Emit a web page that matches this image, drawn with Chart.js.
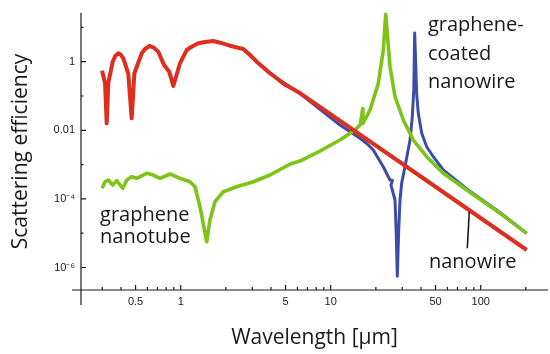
<!DOCTYPE html>
<html>
<head>
<meta charset="utf-8">
<title>Scattering efficiency</title>
<script src="https://cdn.jsdelivr.net/npm/chart.js@4.4.1/dist/chart.umd.min.js"></script>
<style>
  html, body { margin: 0; padding: 0; background: #fff; }
  #chart { display: block; }
</style>
</head>
<body>
<canvas id="chart" width="550" height="354"></canvas>
<script>
// Wellenlänge in µm, Streueffizienz dimensionslos
const redLambda = [0.299, 0.313, 0.321, 0.329, 0.352, 0.366, 0.384, 0.398, 0.414, 0.447, 0.471, 0.491, 0.55, 0.578,
  0.618, 0.656, 0.709, 0.774, 0.839, 0.893, 0.989, 1.096, 1.19, 1.31, 1.45, 1.649, 1.828, 2.13, 2.61, 2.9, 3.21,
  3.84, 4.88, 6.24, 41.4, 202.6];
const redQ = [0.547, 0.239, 0.016, 0.239, 1.0, 1.47, 1.76, 1.6, 1.26, 0.459, 0.0224, 0.459, 1.76, 2.35,
  2.87, 2.63, 1.96, 0.80, 0.511, 0.196, 0.898, 2.19, 2.77, 3.44, 3.75, 4.01, 3.58, 2.93, 2.35, 1.57, 1.0,
  0.511, 0.224, 0.1216, 4.0e-4, 3.24e-6];

const greenLambda = [0.299, 0.313, 0.329, 0.352, 0.374, 0.411, 0.437, 0.471, 0.509, 0.593, 0.657, 0.728,
  0.849, 0.989, 1.153, 1.245, 1.345, 1.49, 1.567, 1.694, 1.923, 2.36, 3.05, 3.94, 5.37, 6.24, 8.49, 11.53,
  14.52, 15.76, 16.34, 16.4, 18.28, 20.77, 22.42, 23.26, 23.84, 24.85, 26.84, 30.48, 35.54, 43.65, 56.3,
  80.7, 134.5, 202.6];
const greenQ = [2.04e-4, 3.17e-4, 3.56e-4, 2.54e-4, 3.40e-4, 2.04e-4, 3.56e-4, 4.44e-4, 3.99e-4, 5.57e-4, 4.97e-4, 3.99e-4,
  5.32e-4, 3.99e-4, 3.17e-4, 2.27e-4, 5.93e-5, 5.65e-6, 2.43e-5, 8.28e-5, 1.62e-4, 2.27e-4, 3.17e-4, 4.97e-4, 1.04e-3, 1.27e-3, 2.49e-3, 5.21e-3,
  0.0102, 0.01476, 0.0432, 0.0158, 0.0391, 0.234, 2.19, 24, 6.73, 0.715, 0.0955, 0.020, 5.21e-3, 1.70e-3, 5.57e-4,
  1.82e-4, 3.8e-5, 9.9e-6];

const blueLambda = [2.61, 3.21, 3.84, 6.24, 11.53, 15.68, 17.38, 19.23, 22.4, 24.85, 25.82, 25.23, 26.84, 27.34, 27.8,
  28.36, 28.97, 29.74, 31.28, 33.8, 35.0, 35.8, 36.3, 37.4, 38.37, 40.45, 43.65, 48.3, 56.3, 80.7, 134.5, 202.6];
const blueQ = [2.35, 1.0, 0.484, 0.118, 0.0143, 5.85e-3, 4.12e-3, 2.67e-3, 8.69e-4, 3.56e-4, 3.44e-4, 2.54e-4, 9.29e-5, 1.01e-5, 5.6e-7,
  1.01e-5, 9.29e-5, 2.91e-4, 8.69e-4, 5.21e-3, 0.0249, 0.15, 6.87, 0.12, 0.0313, 8.18e-3, 3.32e-3, 1.70e-3, 6.96e-4, 1.94e-4, 4.01e-5, 9.9e-6];

// Hinweisstrich zur Beschriftung "nanowire"
const calloutLambda = [83.9, 81.4];
const calloutQ = [4.24e-5, 3.63e-6];

// Achsen
const X_MIN = 0.2164, X_MAX = 281;
const Y_MIN = 2.21e-7, Y_MAX = 26.3;
const xTickValues = [0.5, 1, 5, 10, 50, 100];
const xTickText = ['0.5', '1', '5', '10', '50', '100'];
const xMinorTicks = [0.3, 0.4, 0.6, 0.7, 0.8, 0.9, 2, 3, 4, 6, 7, 8, 9, 20, 30, 40, 60, 70, 80, 90, 200];
const yTickValues = [1e-6, 1e-4, 1e-2, 1];
const yTickText = ['10\u207B\u2076', '10\u207B\u2074', '0.01', '1'];
const yMinorTicks = [1e-5, 1e-3, 0.1, 10];

// Beschriftungen im Diagramm (Anker in Datenkoordinaten: linker Rand, Grundlinie der ersten Zeile)
const curveLabels = [
  { lines: ['graphene', 'nanotube'], x: 0.29, y: 2.27e-5, step: 22 },
  { lines: ['graphene-', 'coated', 'nanowire'], x: 44.5, y: 7.85, step: 28.5 },
  { lines: ['nanowire'], x: 45.2, y: 9.66e-7, step: 0 },
];

const AXIS_COLOR = '#1a1a1a';
const TEXT_COLOR = '#1a1a1a';
const LABEL_FONT = '20px "Open Sans"';

const pts = (xs, ys) => xs.map((x, i) => ({ x, y: ys[i] }));

const axesPlugin = {
  id: 'axes',
  beforeDatasetsDraw(chart) {
    const { ctx, chartArea: a, scales: { x, y } } = chart;
    ctx.save();
    ctx.strokeStyle = AXIS_COLOR;
    ctx.lineWidth = 1.2;
    ctx.beginPath();
    // Achsenlinien, leicht überstehend wie im Original
    ctx.moveTo(a.left - 9, a.bottom);
    ctx.lineTo(a.right, a.bottom);
    ctx.moveTo(a.left, a.top);
    ctx.lineTo(a.left, a.bottom + 15);
    xTickValues.forEach(v => { const p = x.getPixelForValue(v); ctx.moveTo(p, a.bottom); ctx.lineTo(p, a.bottom - 5); });
    xMinorTicks.forEach(v => { const p = x.getPixelForValue(v); ctx.moveTo(p, a.bottom); ctx.lineTo(p, a.bottom - 3); });
    yTickValues.forEach(v => { const p = y.getPixelForValue(v); ctx.moveTo(a.left, p); ctx.lineTo(a.left + 5, p); });
    yMinorTicks.forEach(v => { const p = y.getPixelForValue(v); ctx.moveTo(a.left, p); ctx.lineTo(a.left + 2.5, p); });
    ctx.stroke();
    ctx.restore();
  },
  afterDatasetsDraw(chart) {
    const { ctx, scales: { x, y } } = chart;
    ctx.save();
    ctx.font = LABEL_FONT;
    ctx.fillStyle = TEXT_COLOR;
    ctx.textAlign = 'left';
    ctx.textBaseline = 'alphabetic';
    curveLabels.forEach(l => {
      const px = x.getPixelForValue(l.x);
      const py = y.getPixelForValue(l.y);
      l.lines.forEach((t, i) => ctx.fillText(t, px, py + i * l.step));
    });
    ctx.restore();
  }
};

new Chart(document.getElementById('chart'), {
  type: 'line',
  data: {
    datasets: [
      { label: 'callout', data: pts(calloutLambda, calloutQ), borderColor: '#1a1a1a', borderWidth: 1.6, order: 0 },
      { label: 'nanowire', data: pts(redLambda, redQ), borderColor: '#dd2e1f', borderWidth: 4, order: 1 },
      { label: 'graphene nanotube', data: pts(greenLambda, greenQ), borderColor: '#7cc417', borderWidth: 3.6, order: 2 },
      { label: 'graphene-coated nanowire', data: pts(blueLambda, blueQ), borderColor: '#3d4ba9', borderWidth: 3, order: 3 },
    ],
  },
  options: {
    responsive: false,
    animation: false,
    events: [],
    layout: { padding: { left: 0, right: 2, top: 13, bottom: 0 } },
    elements: {
      point: { radius: 0, hoverRadius: 0 },
      line: { tension: 0, fill: false, borderJoinStyle: 'round', borderCapStyle: 'butt' },
    },
    scales: {
      x: {
        type: 'logarithmic',
        min: X_MIN,
        max: X_MAX,
        afterFit: s => { s.height = 64; },
        afterBuildTicks: s => { s.ticks = xTickValues.map(v => ({ value: v })); },
        grid: { display: false, drawTicks: false },
        border: { display: false },
        ticks: {
          autoSkip: false, maxRotation: 0, padding: 5,
          color: TEXT_COLOR, font: { family: '"Liberation Sans", Arial, sans-serif', size: 11 },
          callback: (v, i) => xTickText[i],
        },
        title: {
          display: true, text: 'Wavelength [µm]', color: TEXT_COLOR,
          font: { family: '"Open Sans"', size: 21 }, padding: { top: 0, bottom: 3 },
        },
      },
      y: {
        type: 'logarithmic',
        min: Y_MIN,
        max: Y_MAX,
        afterFit: s => { s.width = 81; },
        afterBuildTicks: s => { s.ticks = yTickValues.map(v => ({ value: v })); },
        grid: { display: false, drawTicks: false },
        border: { display: false },
        ticks: {
          autoSkip: false, padding: 6,
          color: TEXT_COLOR, font: { family: '"Liberation Sans", Arial, sans-serif', size: 11 },
          callback: (v, i) => yTickText[i],
        },
        title: {
          display: true, text: 'Scattering efficiency', color: TEXT_COLOR,
          font: { family: '"Open Sans"', size: 21 }, padding: { top: 8, bottom: 0 },
        },
      },
    },
    plugins: { legend: { display: false }, tooltip: { enabled: false } },
  },
  plugins: [axesPlugin],
});
</script>
</body>
</html>
